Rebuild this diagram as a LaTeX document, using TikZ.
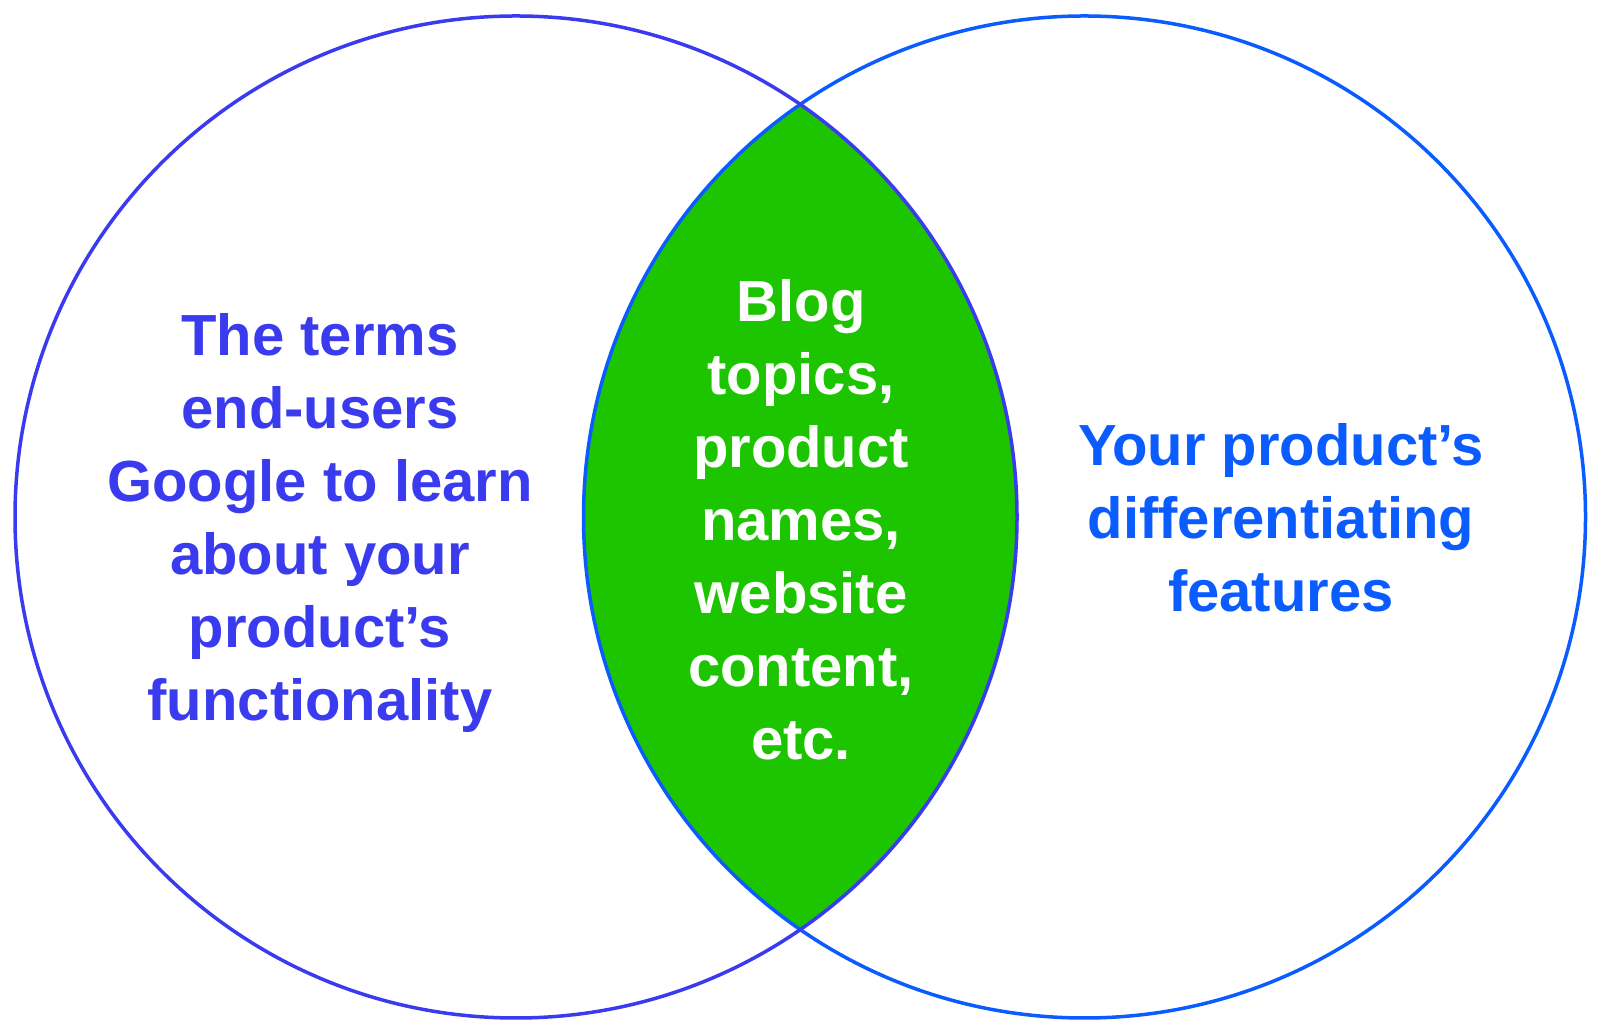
\documentclass[tikz,border=0pt]{standalone}
\usepackage{fontspec}
\setmainfont{Liberation Sans}
\definecolor{lblue}{HTML}{3A3BEF}
\definecolor{rblue}{HTML}{0B5CFF}
\definecolor{lensgreen}{HTML}{1CC500}
\tikzset{
  ring/.style={line width=3.5pt},
  label/.style={align=center, font=\bfseries\fontsize{58}{73}\selectfont, inner sep=0pt}
}
\begin{document}
\begin{tikzpicture}[x=1pt,y=1pt]
\useasboundingbox[fill=white] (0,0) rectangle (1600,1035);
\coordinate (cl) at (516,518);
\coordinate (cr) at (1084.5,518);
\begin{scope}
  \clip (cl) circle[radius=501];
  \fill[lensgreen] (cr) circle[radius=501];
\end{scope}
\draw[ring, rblue] (cr) circle[radius=501];
\draw[ring, lblue] (cl) circle[radius=501];
\node[label, text=lblue] (lt) at (320,512) {The terms\\end-users\\Google to learn\\about your\\product’s\\functionality};
\node[label, text=white] (mt) at (801,515) {Blog\\topics,\\product\\names,\\website\\content,\\etc.};
\node[label, text=rblue] (rt) at (1281,517) {Your product’s\\differentiating\\features};
\end{tikzpicture}
\end{document}
